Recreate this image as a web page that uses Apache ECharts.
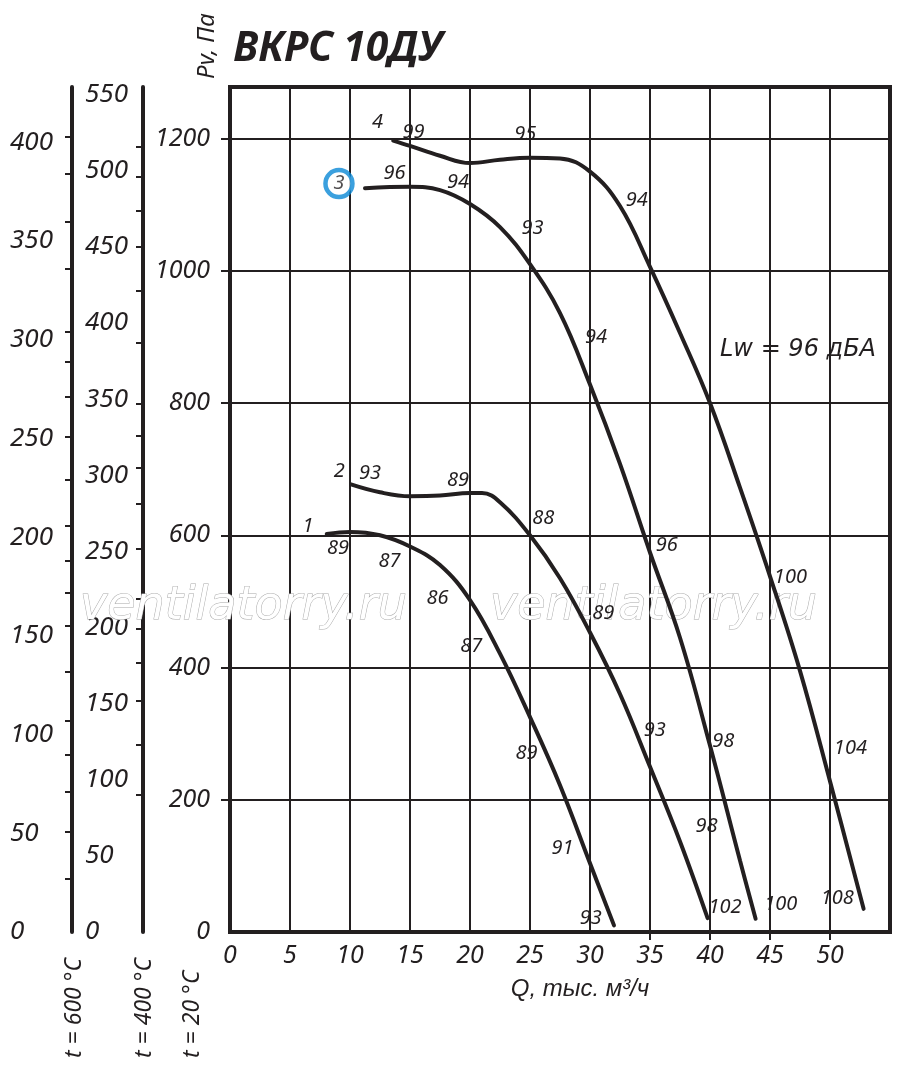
<!DOCTYPE html>
<html><head><meta charset="utf-8">
<script src="https://cdn.jsdelivr.net/npm/echarts@6/dist/echarts.min.js"></script>
<style>html,body{margin:0;padding:0;background:#fff}#c{width:900px;height:1066px}</style>
</head><body><div id="c"></div><script>
// ---- data ----
const xLabelVals = [0,5,10,15,20,25,30,35,40,45,50];
const xTickVals = [35,40,45,50];
const pLabelVals = [0,200,400,600,800,1000,1200];
const pTickVals = [200,400,600,800,1000,1200];
const t400Labels = [0,50,100,150,200,250,300,350,400,450,500,550];
const t400Ticks = [90,123,152,177,199,219,252,281,305,326,347,387,421,450,474,496,516];
const t600Labels = [0,50,100,150,200,250,300,350,400];
const t600Ticks = [27,51,71,90,107,132,155,172,188,206,229,251,271,289,304,336,360,384,403];

const curve1 = [[8.06,602],[10,605],[12.5,600],[15,583],[17.5,555],[20,502],[22.5,421],[25,325],[27.5,222],[30,104],[32,10]];
const curve2 = [[10.08,677],[12.5,665],[15,659],[17.5,660],[20,664],[21,664],[22.5,650],[25,600],[27.5,535],[30,453],[32.5,360],[35,250],[37.5,137],[39.8,21]];
const curve3 = [[11.25,1125],[15,1127],[17.5,1122],[20,1101],[22.5,1066],[25,1010],[27.5,936],[30,828],[32.5,708],[35,574],[37.5,445],[40,282],[42.5,108],[43.8,20]];
const curve4 = [[13.6,1197],[15,1189],[17.5,1174],[20,1163],[22.5,1168],[25,1171],[27.5,1170],[30,1150],[32.5,1098],[35,1006],[37.5,906],[40,800],[42.5,672],[45,538],[47.5,395],[50,228],[52.8,35]];

const curveLabels = [
 [12.3,1225,'4'],[15.3,1210,'99'],[24.6,1206,'95'],[33.9,1106,'94'],[46.7,537,'100'],[51.7,278,'104'],[50.6,51,'108'],
 [13.7,1148,'96'],[19.0,1134,'94'],[25.2,1065,'93'],[30.5,899,'94'],[36.4,585,'96'],[41.1,288,'98'],[45.9,42,'100'],
 [9.1,697,'2'],[11.67,693,'93'],[19.0,683,'89'],[26.1,625,'88'],[31.1,482,'89'],[35.4,305,'93'],[39.7,160,'98'],[41.25,38,'102'],
 [6.5,613,'1'],[9.0,581,'89'],[13.3,561,'87'],[17.3,505,'86'],[20.1,432,'87'],[24.7,270,'89'],[27.7,126,'91'],[30.06,21,'93']
];
const circled = [[9.08,1132,'3']];

// ---- chart ----
const INK = '#231f20';
const FONT = '"Noto Sans", "Open Sans", sans-serif';
const txt = (size) => ({color: INK, fontFamily: FONT, fontStyle: 'italic', fontSize: size});

const chart = echarts.init(document.getElementById('c'));
const lineSeries = (d) => ({
  type: 'line', data: d, smooth: 0.4, symbol: 'none', silent: true, z: 3,
  lineStyle: {color: INK, width: 4, cap: 'round'}
});

chart.setOption({
  animation: false,
  backgroundColor: '#fff',
  grid: {left: 230, top: 87, width: 660, height: 845, show: true, borderColor: INK, borderWidth: 4, backgroundColor: 'transparent'},
  xAxis: [
    {
      type: 'value', min: 0, max: 55, interval: 5, position: 'bottom',
      axisLine: {show: false},
      axisTick: {show: false},
      axisLabel: Object.assign({customValues: xLabelVals, margin: 11}, txt(25)),
      splitLine: {show: true, lineStyle: {color: INK, width: 2}}
    },
    {
      type: 'value', min: 0, max: 55, position: 'bottom',
      axisLine: {show: false},
      axisTick: {show: true, customValues: xTickVals, length: 8, lineStyle: {color: INK, width: 2}},
      axisLabel: {show: false},
      splitLine: {show: false}
    }
  ],
  yAxis: [
    {
      type: 'value', min: 0, max: 1278, interval: 200, position: 'left',
      axisLine: {show: false},
      axisTick: {show: true, customValues: pTickVals, length: 9, lineStyle: {color: INK, width: 2}},
      axisLabel: Object.assign({customValues: pLabelVals, margin: 20, formatter: v => String(v)}, txt(25)),
      splitLine: {show: true, lineStyle: {color: INK, width: 2}}
    },
    {
      type: 'value', min: 0, max: 555, position: 'left', offset: 87,
      axisLine: {show: true, onZero: false, lineStyle: {color: INK, width: 4}},
      axisTick: {show: true, customValues: t400Ticks, length: 7, lineStyle: {color: INK, width: 2}},
      axisLabel: Object.assign({customValues: t400Labels, margin: 58, align: 'left', formatter: v => String(v)}, txt(26)),
      splitLine: {show: false}
    },
    {
      type: 'value', min: 0, max: 428, position: 'left', offset: 158,
      axisLine: {show: true, onZero: false, lineStyle: {color: INK, width: 4}},
      axisTick: {show: true, customValues: t600Ticks, length: 7, lineStyle: {color: INK, width: 2}},
      axisLabel: Object.assign({customValues: t600Labels, margin: 62, align: 'left', formatter: v => String(v)}, txt(26)),
      splitLine: {show: false}
    }
  ],
  series: [
    lineSeries(curve1), lineSeries(curve2), lineSeries(curve3), lineSeries(curve4),
    {
      type: 'scatter', silent: true, z: 4, symbolSize: 0.1,
      itemStyle: {color: INK},
      data: curveLabels.map(d => ({value: [d[0], d[1]], name: d[2]})),
      label: Object.assign({show: true, position: 'inside', opacity: 1, formatter: p => p.name}, txt(20))
    },
    {
      type: 'scatter', silent: true, z: 4, symbol: 'circle', symbolSize: 27,
      itemStyle: {color: '#fff', borderColor: '#0a88d6', borderWidth: 4.5},
      data: circled.map(d => ({value: [d[0], d[1]], name: d[2]})),
      label: Object.assign({show: true, position: 'inside', formatter: p => p.name}, txt(20))
    }
  ],
  graphic: [
    {type: 'text', x: 80, y: 607, z: 1, silent: true, style: {text: 'ventilatorry.ru', font: 'italic 46px "DejaVu Sans"', fill: '#fff', stroke: '#aaaaaa', lineWidth: 1, verticalAlign: 'middle'}},
    {type: 'text', x: 490, y: 607, z: 1, silent: true, style: {text: 'ventilatorry.ru', font: 'italic 46px "DejaVu Sans"', fill: '#fff', stroke: '#aaaaaa', lineWidth: 1, verticalAlign: 'middle'}},
    {type: 'text', x: 233, y: 49, z: 5, style: {text: 'ВКРС 10ДУ', font: 'italic bold 41px ' + FONT, fill: INK, align: 'left', verticalAlign: 'middle'}},
    {type: 'text', x: 207, y: 46, rotation: Math.PI / 2, z: 5, style: {text: 'Pv, Па', font: 'italic 24px ' + FONT, fill: INK, align: 'center', verticalAlign: 'middle'}},
    {type: 'text', x: 580, y: 989, z: 5, style: {text: 'Q, тыс. м³/ч', font: 'italic 24px "Liberation Sans"', fill: INK, align: 'center', verticalAlign: 'middle'}},
    {type: 'text', x: 720, y: 350, z: 5, style: {text: 'Lw = 96 дБА', font: 'italic 24px "DejaVu Sans"', fill: INK, align: 'left', verticalAlign: 'middle'}},
    {type: 'text', x: 74, y: 1058, rotation: Math.PI / 2, z: 5, style: {text: 't = 600 °C', font: 'italic 23px ' + FONT, fill: INK, align: 'left', verticalAlign: 'middle'}},
    {type: 'text', x: 144, y: 1058, rotation: Math.PI / 2, z: 5, style: {text: 't = 400 °C', font: 'italic 23px ' + FONT, fill: INK, align: 'left', verticalAlign: 'middle'}},
    {type: 'text', x: 192, y: 1058, rotation: Math.PI / 2, z: 5, style: {text: 't = 20 °C', font: 'italic 23px ' + FONT, fill: INK, align: 'left', verticalAlign: 'middle'}}
  ]
});
</script></body></html>
